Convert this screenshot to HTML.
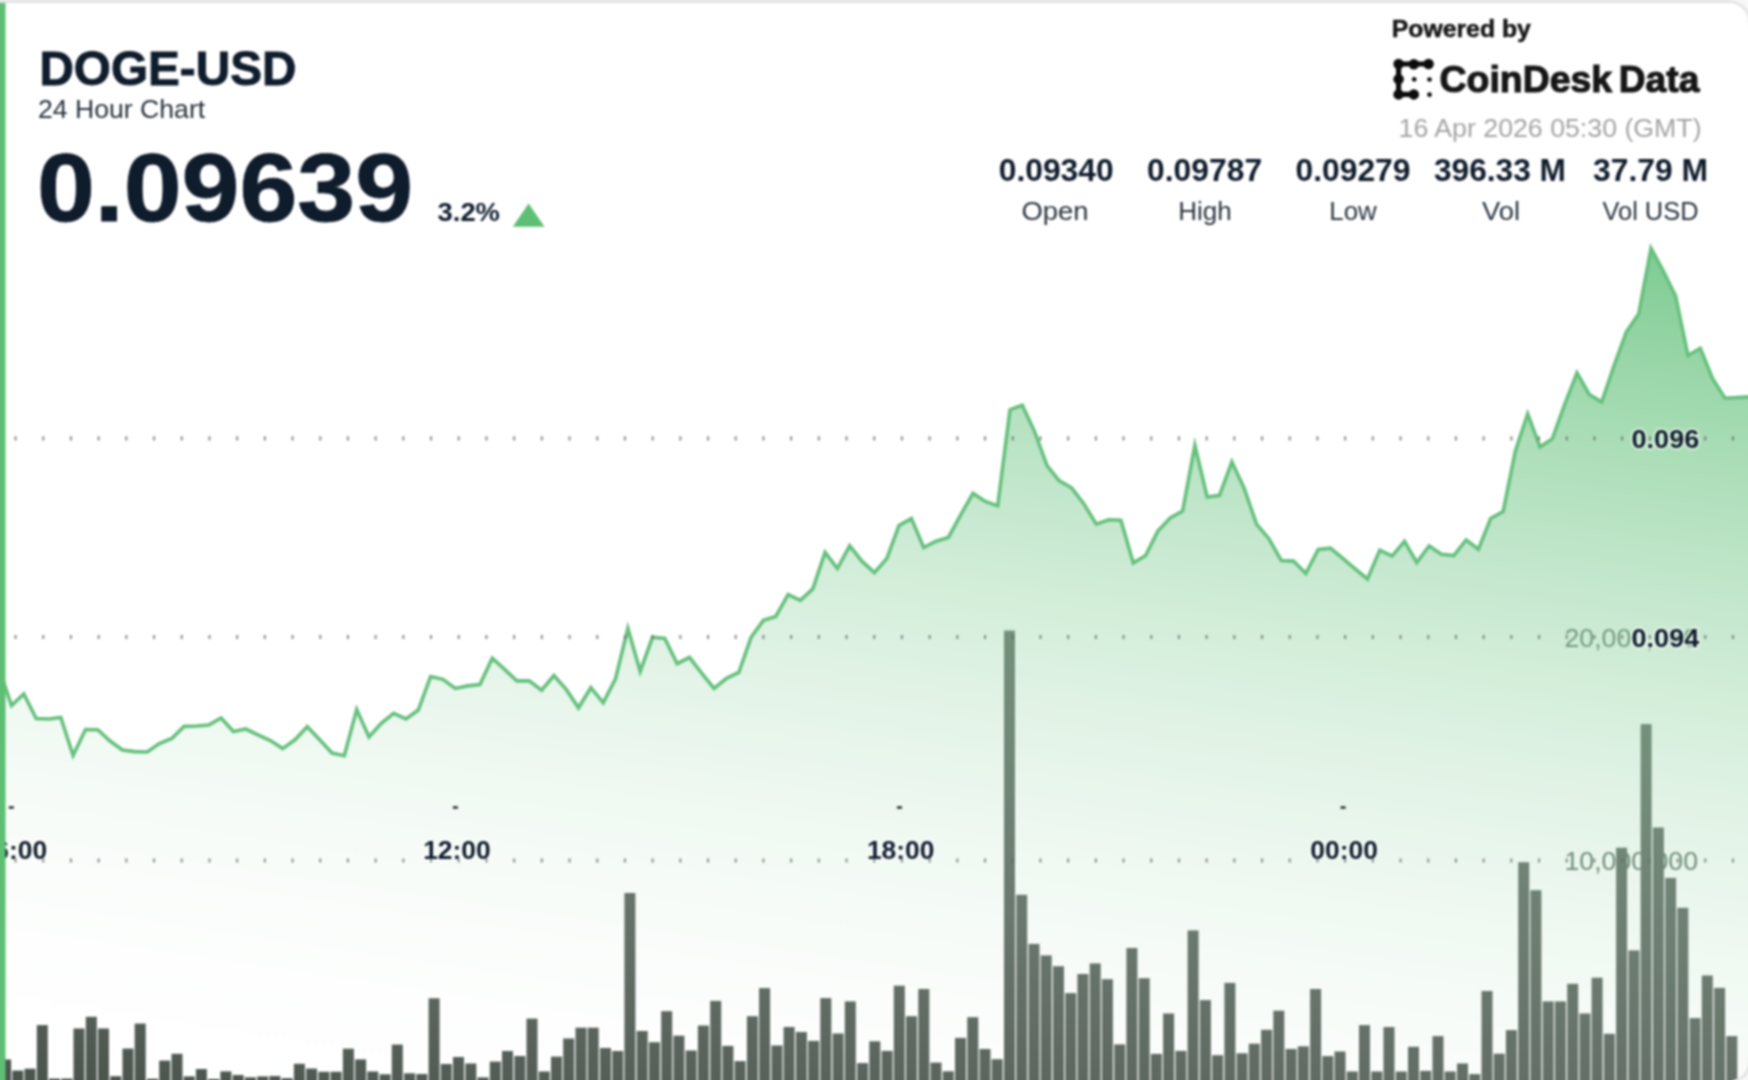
<!DOCTYPE html>
<html lang="en"><head><meta charset="utf-8"><title>DOGE-USD 24 Hour Chart</title>
<style>
html,body{margin:0;padding:0;background:#fff;}
body{width:1748px;height:1080px;overflow:hidden;}
svg{display:block;}
text{font-family:"Liberation Sans",sans-serif;}
.b{font-weight:bold;}
.navy{fill:#0f1c2c;}
.halo{paint-order:stroke;stroke:rgba(255,255,255,0.5);stroke-width:4px;stroke-linejoin:round;}
.thick{stroke:#0f1c2c;stroke-width:0.9px;}
</style></head><body>
<svg width="1748" height="1080" viewBox="0 0 1748 1080">
<defs>
<filter id="bl" filterUnits="userSpaceOnUse" x="-20" y="-20" width="1788" height="1120" color-interpolation-filters="sRGB"><feGaussianBlur stdDeviation="0.8"/></filter>
<linearGradient id="g" gradientUnits="userSpaceOnUse" x1="1650" y1="250" x2="1495" y2="1291"><stop offset="0.000" stop-color="rgb(95,191,119)" stop-opacity="0.800"/><stop offset="0.050" stop-color="rgb(103,194,126)" stop-opacity="0.760"/><stop offset="0.100" stop-color="rgb(111,197,133)" stop-opacity="0.720"/><stop offset="0.150" stop-color="rgb(119,201,139)" stop-opacity="0.680"/><stop offset="0.200" stop-color="rgb(127,204,146)" stop-opacity="0.640"/><stop offset="0.250" stop-color="rgb(135,207,153)" stop-opacity="0.600"/><stop offset="0.300" stop-color="rgb(143,210,160)" stop-opacity="0.560"/><stop offset="0.350" stop-color="rgb(151,213,167)" stop-opacity="0.520"/><stop offset="0.400" stop-color="rgb(159,217,173)" stop-opacity="0.480"/><stop offset="0.450" stop-color="rgb(167,220,180)" stop-opacity="0.440"/><stop offset="0.500" stop-color="rgb(175,223,187)" stop-opacity="0.400"/><stop offset="0.550" stop-color="rgb(183,226,194)" stop-opacity="0.360"/><stop offset="0.600" stop-color="rgb(191,229,201)" stop-opacity="0.320"/><stop offset="0.650" stop-color="rgb(199,233,207)" stop-opacity="0.280"/><stop offset="0.700" stop-color="rgb(207,236,214)" stop-opacity="0.240"/><stop offset="0.750" stop-color="rgb(215,239,221)" stop-opacity="0.200"/><stop offset="0.800" stop-color="rgb(223,242,228)" stop-opacity="0.160"/><stop offset="0.850" stop-color="rgb(231,245,235)" stop-opacity="0.120"/><stop offset="0.900" stop-color="rgb(239,249,241)" stop-opacity="0.080"/><stop offset="0.950" stop-color="rgb(247,252,248)" stop-opacity="0.040"/><stop offset="1.000" stop-color="rgb(255,255,255)" stop-opacity="0.000"/></linearGradient>
<clipPath id="card"><rect x="-40" y="0" width="1791.5" height="1083.5" rx="22.5" ry="22.5"/></clipPath>
</defs>
<rect x="-30" y="-30" width="1808" height="1140" fill="#f8f8f8"/>
<g id="all" filter="url(#bl)"><g clip-path="url(#card)">
<rect x="-30" y="-30" width="1808" height="1140" fill="#fff"/>
<g font-size="26" fill="#4b6152" fill-opacity="1" text-anchor="end" stroke-width="0">
<text class="halo" x="1698" y="647" textLength="133.5" lengthAdjust="spacingAndGlyphs">20,000,000</text>
<text class="halo" x="1698" y="870" textLength="133.5" lengthAdjust="spacingAndGlyphs">10,000,000</text>
</g>
<g fill="#4b554e"><rect x="0.1" y="1059.5" width="11.0" height="40.5"/><rect x="12.3" y="1070.6" width="11.0" height="29.4"/><rect x="24.5" y="1068.7" width="11.0" height="31.3"/><rect x="36.8" y="1025.1" width="11.0" height="74.9"/><rect x="49.0" y="1078.6" width="11.0" height="21.4"/><rect x="61.3" y="1078.6" width="11.0" height="21.4"/><rect x="73.5" y="1028.5" width="11.0" height="71.5"/><rect x="85.8" y="1016.8" width="11.0" height="83.2"/><rect x="98.0" y="1028.5" width="11.0" height="71.5"/><rect x="110.2" y="1076.2" width="11.0" height="23.8"/><rect x="122.5" y="1048.6" width="11.0" height="51.4"/><rect x="134.7" y="1023.6" width="11.0" height="76.4"/><rect x="147.0" y="1078.8" width="11.0" height="21.2"/><rect x="159.2" y="1060.6" width="11.0" height="39.4"/><rect x="171.5" y="1053.8" width="11.0" height="46.2"/><rect x="183.7" y="1076.4" width="11.0" height="23.6"/><rect x="195.9" y="1069.0" width="11.0" height="31.0"/><rect x="208.2" y="1079.0" width="11.0" height="21.0"/><rect x="220.4" y="1071.4" width="11.0" height="28.6"/><rect x="232.7" y="1075.0" width="11.0" height="25.0"/><rect x="244.9" y="1077.3" width="11.0" height="22.7"/><rect x="257.2" y="1076.4" width="11.0" height="23.6"/><rect x="269.4" y="1076.0" width="11.0" height="24.0"/><rect x="281.6" y="1078.2" width="11.0" height="21.8"/><rect x="293.9" y="1063.8" width="11.0" height="36.2"/><rect x="306.1" y="1068.6" width="11.0" height="31.4"/><rect x="318.4" y="1071.8" width="11.0" height="28.2"/><rect x="330.6" y="1071.8" width="11.0" height="28.2"/><rect x="342.9" y="1048.7" width="11.0" height="51.3"/><rect x="355.1" y="1059.4" width="11.0" height="40.6"/><rect x="367.3" y="1071.5" width="11.0" height="28.5"/><rect x="379.6" y="1074.3" width="11.0" height="25.7"/><rect x="391.8" y="1044.6" width="11.0" height="55.4"/><rect x="404.1" y="1073.3" width="11.0" height="26.7"/><rect x="416.3" y="1074.0" width="11.0" height="26.0"/><rect x="428.6" y="998.3" width="11.0" height="101.7"/><rect x="440.8" y="1064.0" width="11.0" height="36.0"/><rect x="453.0" y="1057.0" width="11.0" height="43.0"/><rect x="465.3" y="1063.5" width="11.0" height="36.5"/><rect x="477.5" y="1077.4" width="11.0" height="22.6"/><rect x="489.8" y="1061.6" width="11.0" height="38.4"/><rect x="502.0" y="1051.0" width="11.0" height="49.0"/><rect x="514.3" y="1056.0" width="11.0" height="44.0"/><rect x="526.5" y="1018.6" width="11.0" height="81.4"/><rect x="538.7" y="1071.5" width="11.0" height="28.5"/><rect x="551.0" y="1056.6" width="11.0" height="43.4"/><rect x="563.2" y="1038.5" width="11.0" height="61.5"/><rect x="575.5" y="1027.7" width="11.0" height="72.3"/><rect x="587.7" y="1027.7" width="11.0" height="72.3"/><rect x="600.0" y="1048.0" width="11.0" height="52.0"/><rect x="612.2" y="1051.0" width="11.0" height="49.0"/><rect x="624.4" y="893.0" width="11.0" height="207.0"/><rect x="636.7" y="1031.0" width="11.0" height="69.0"/><rect x="648.9" y="1042.2" width="11.0" height="57.8"/><rect x="661.2" y="1011.2" width="11.0" height="88.8"/><rect x="673.4" y="1035.7" width="11.0" height="64.3"/><rect x="685.7" y="1050.5" width="11.0" height="49.5"/><rect x="697.9" y="1025.5" width="11.0" height="74.5"/><rect x="710.2" y="1000.9" width="11.0" height="99.1"/><rect x="722.4" y="1045.9" width="11.0" height="54.1"/><rect x="734.6" y="1061.1" width="11.0" height="38.9"/><rect x="746.9" y="1016.2" width="11.0" height="83.8"/><rect x="759.1" y="988.1" width="11.0" height="111.9"/><rect x="771.4" y="1045.5" width="11.0" height="54.5"/><rect x="783.6" y="1027.0" width="11.0" height="73.0"/><rect x="795.9" y="1032.0" width="11.0" height="68.0"/><rect x="808.1" y="1040.9" width="11.0" height="59.1"/><rect x="820.3" y="998.1" width="11.0" height="101.9"/><rect x="832.6" y="1033.5" width="11.0" height="66.5"/><rect x="844.8" y="1001.4" width="11.0" height="98.6"/><rect x="857.1" y="1063.1" width="11.0" height="36.9"/><rect x="869.3" y="1041.3" width="11.0" height="58.7"/><rect x="881.6" y="1050.9" width="11.0" height="49.1"/><rect x="893.8" y="985.7" width="11.0" height="114.3"/><rect x="906.0" y="1016.2" width="11.0" height="83.8"/><rect x="918.3" y="989.0" width="11.0" height="111.0"/><rect x="930.5" y="1062.6" width="11.0" height="37.4"/><rect x="942.8" y="1071.3" width="11.0" height="28.7"/><rect x="955.0" y="1037.9" width="11.0" height="62.1"/><rect x="967.3" y="1017.2" width="11.0" height="82.8"/><rect x="979.5" y="1049.0" width="11.0" height="51.0"/><rect x="991.7" y="1059.2" width="11.0" height="40.8"/><rect x="1004.0" y="630.6" width="11.0" height="469.4"/><rect x="1016.2" y="894.8" width="11.0" height="205.2"/><rect x="1028.5" y="943.9" width="11.0" height="156.1"/><rect x="1040.7" y="955.4" width="11.0" height="144.6"/><rect x="1053.0" y="966.2" width="11.0" height="133.8"/><rect x="1065.2" y="993.1" width="11.0" height="106.9"/><rect x="1077.4" y="974.0" width="11.0" height="126.0"/><rect x="1089.7" y="963.4" width="11.0" height="136.6"/><rect x="1101.9" y="979.2" width="11.0" height="120.8"/><rect x="1114.2" y="1044.4" width="11.0" height="55.6"/><rect x="1126.4" y="948.0" width="11.0" height="152.0"/><rect x="1138.7" y="978.2" width="11.0" height="121.8"/><rect x="1150.9" y="1053.9" width="11.0" height="46.1"/><rect x="1163.1" y="1013.5" width="11.0" height="86.5"/><rect x="1175.4" y="1050.9" width="11.0" height="49.1"/><rect x="1187.6" y="930.4" width="11.0" height="169.6"/><rect x="1199.9" y="1000.1" width="11.0" height="99.9"/><rect x="1212.1" y="1055.2" width="11.0" height="44.8"/><rect x="1224.4" y="982.9" width="11.0" height="117.1"/><rect x="1236.6" y="1053.3" width="11.0" height="46.7"/><rect x="1248.8" y="1043.7" width="11.0" height="56.3"/><rect x="1261.1" y="1029.8" width="11.0" height="70.2"/><rect x="1273.3" y="1010.7" width="11.0" height="89.3"/><rect x="1285.6" y="1049.0" width="11.0" height="51.0"/><rect x="1297.8" y="1046.3" width="11.0" height="53.7"/><rect x="1310.1" y="989.0" width="11.0" height="111.0"/><rect x="1322.3" y="1056.1" width="11.0" height="43.9"/><rect x="1334.5" y="1051.5" width="11.0" height="48.5"/><rect x="1346.8" y="1071.5" width="11.0" height="28.5"/><rect x="1359.0" y="1025.1" width="11.0" height="74.9"/><rect x="1371.3" y="1071.5" width="11.0" height="28.5"/><rect x="1383.5" y="1027.0" width="11.0" height="73.0"/><rect x="1395.8" y="1071.5" width="11.0" height="28.5"/><rect x="1408.0" y="1046.8" width="11.0" height="53.2"/><rect x="1420.2" y="1070.9" width="11.0" height="29.1"/><rect x="1432.5" y="1036.1" width="11.0" height="63.9"/><rect x="1444.7" y="1071.5" width="11.0" height="28.5"/><rect x="1457.0" y="1063.5" width="11.0" height="36.5"/><rect x="1469.2" y="1074.1" width="11.0" height="25.9"/><rect x="1481.5" y="991.0" width="11.0" height="109.0"/><rect x="1493.7" y="1053.7" width="11.0" height="46.3"/><rect x="1505.9" y="1030.1" width="11.0" height="69.9"/><rect x="1518.2" y="862.2" width="11.0" height="237.8"/><rect x="1530.4" y="890.2" width="11.0" height="209.8"/><rect x="1542.7" y="1001.4" width="11.0" height="98.6"/><rect x="1554.9" y="1001.4" width="11.0" height="98.6"/><rect x="1567.2" y="983.8" width="11.0" height="116.2"/><rect x="1579.4" y="1013.5" width="11.0" height="86.5"/><rect x="1591.6" y="977.7" width="11.0" height="122.3"/><rect x="1603.9" y="1033.8" width="11.0" height="66.2"/><rect x="1616.1" y="847.7" width="11.0" height="252.3"/><rect x="1628.4" y="950.4" width="11.0" height="149.6"/><rect x="1640.6" y="724.1" width="11.0" height="375.9"/><rect x="1652.9" y="827.5" width="11.0" height="272.5"/><rect x="1665.1" y="877.9" width="11.0" height="222.1"/><rect x="1677.3" y="907.8" width="11.0" height="192.2"/><rect x="1689.6" y="1018.1" width="11.0" height="81.9"/><rect x="1701.8" y="975.5" width="11.0" height="124.5"/><rect x="1714.1" y="987.9" width="11.0" height="112.1"/><rect x="1726.3" y="1036.1" width="11.0" height="63.9"/></g>
<path d="M-15.0,640.0 L-0.8,669.0 L11.5,705.5 L23.8,694.0 L36.2,718.5 L48.5,719.0 L60.8,717.5 L73.1,755.5 L85.5,729.5 L97.8,729.7 L110.1,741.0 L122.4,750.0 L134.8,751.6 L147.1,752.0 L159.4,743.6 L171.8,738.5 L184.1,726.4 L196.4,726.0 L208.7,725.0 L221.1,718.0 L233.4,731.5 L245.7,729.0 L258.0,734.8 L270.4,740.5 L282.7,748.6 L295.0,739.8 L307.3,726.7 L319.7,739.8 L332.0,753.0 L344.3,755.7 L356.7,709.6 L369.0,737.0 L381.3,723.4 L393.6,713.4 L406.0,719.0 L418.3,710.0 L430.6,676.5 L442.9,679.3 L455.3,688.4 L467.6,685.9 L479.9,684.6 L492.3,658.2 L504.6,669.3 L516.9,680.9 L529.2,680.9 L541.6,690.2 L553.9,675.6 L566.2,689.4 L578.5,707.8 L590.9,687.7 L603.2,702.8 L615.5,678.8 L627.9,628.5 L640.2,671.3 L652.5,637.3 L664.8,638.5 L677.2,663.7 L689.5,657.4 L701.8,673.3 L714.1,688.4 L726.5,678.3 L738.8,672.5 L751.1,637.3 L763.4,620.4 L775.8,616.4 L788.1,594.5 L800.4,600.3 L812.8,588.9 L825.1,552.4 L837.4,568.5 L849.7,545.8 L862.1,561.4 L874.4,572.7 L886.7,558.8 L899.0,525.6 L911.4,518.5 L923.7,547.5 L936.0,541.2 L948.4,537.4 L960.7,514.8 L973.0,493.4 L985.3,501.4 L997.7,505.9 L1010.0,409.7 L1022.3,405.2 L1034.6,431.6 L1047.0,465.6 L1059.3,480.8 L1071.6,487.8 L1083.9,503.9 L1096.3,524.1 L1108.6,519.8 L1120.9,520.3 L1133.3,563.1 L1145.6,555.6 L1157.9,531.1 L1170.2,518.0 L1182.6,511.0 L1194.9,445.5 L1207.2,497.1 L1219.5,495.4 L1231.9,461.9 L1244.2,488.3 L1256.5,524.1 L1268.9,538.7 L1281.2,560.5 L1293.5,561.1 L1305.8,573.5 L1318.2,549.5 L1330.5,548.2 L1342.8,558.3 L1355.1,568.8 L1367.5,579.0 L1379.8,550.1 L1392.1,556.1 L1404.5,541.3 L1416.8,562.5 L1429.1,546.0 L1441.4,554.2 L1453.8,555.6 L1466.1,539.9 L1478.4,549.3 L1490.7,518.4 L1503.1,511.6 L1515.4,451.0 L1527.7,413.9 L1540.0,446.9 L1552.4,438.7 L1564.7,404.3 L1577.0,373.0 L1589.4,394.6 L1601.7,402.1 L1614.0,365.8 L1626.3,332.0 L1638.7,313.8 L1651.0,248.3 L1663.3,271.2 L1675.6,296.0 L1688.0,355.5 L1700.3,348.3 L1712.6,378.7 L1725.0,398.2 L1737.3,397.5 L1749.6,396.9 L1765.0,396.5 L1765.0,1110 L-15.0,1110 Z" fill="url(#g)"/>
<path d="M-15.0,640.0 L-0.8,669.0 L11.5,705.5 L23.8,694.0 L36.2,718.5 L48.5,719.0 L60.8,717.5 L73.1,755.5 L85.5,729.5 L97.8,729.7 L110.1,741.0 L122.4,750.0 L134.8,751.6 L147.1,752.0 L159.4,743.6 L171.8,738.5 L184.1,726.4 L196.4,726.0 L208.7,725.0 L221.1,718.0 L233.4,731.5 L245.7,729.0 L258.0,734.8 L270.4,740.5 L282.7,748.6 L295.0,739.8 L307.3,726.7 L319.7,739.8 L332.0,753.0 L344.3,755.7 L356.7,709.6 L369.0,737.0 L381.3,723.4 L393.6,713.4 L406.0,719.0 L418.3,710.0 L430.6,676.5 L442.9,679.3 L455.3,688.4 L467.6,685.9 L479.9,684.6 L492.3,658.2 L504.6,669.3 L516.9,680.9 L529.2,680.9 L541.6,690.2 L553.9,675.6 L566.2,689.4 L578.5,707.8 L590.9,687.7 L603.2,702.8 L615.5,678.8 L627.9,628.5 L640.2,671.3 L652.5,637.3 L664.8,638.5 L677.2,663.7 L689.5,657.4 L701.8,673.3 L714.1,688.4 L726.5,678.3 L738.8,672.5 L751.1,637.3 L763.4,620.4 L775.8,616.4 L788.1,594.5 L800.4,600.3 L812.8,588.9 L825.1,552.4 L837.4,568.5 L849.7,545.8 L862.1,561.4 L874.4,572.7 L886.7,558.8 L899.0,525.6 L911.4,518.5 L923.7,547.5 L936.0,541.2 L948.4,537.4 L960.7,514.8 L973.0,493.4 L985.3,501.4 L997.7,505.9 L1010.0,409.7 L1022.3,405.2 L1034.6,431.6 L1047.0,465.6 L1059.3,480.8 L1071.6,487.8 L1083.9,503.9 L1096.3,524.1 L1108.6,519.8 L1120.9,520.3 L1133.3,563.1 L1145.6,555.6 L1157.9,531.1 L1170.2,518.0 L1182.6,511.0 L1194.9,445.5 L1207.2,497.1 L1219.5,495.4 L1231.9,461.9 L1244.2,488.3 L1256.5,524.1 L1268.9,538.7 L1281.2,560.5 L1293.5,561.1 L1305.8,573.5 L1318.2,549.5 L1330.5,548.2 L1342.8,558.3 L1355.1,568.8 L1367.5,579.0 L1379.8,550.1 L1392.1,556.1 L1404.5,541.3 L1416.8,562.5 L1429.1,546.0 L1441.4,554.2 L1453.8,555.6 L1466.1,539.9 L1478.4,549.3 L1490.7,518.4 L1503.1,511.6 L1515.4,451.0 L1527.7,413.9 L1540.0,446.9 L1552.4,438.7 L1564.7,404.3 L1577.0,373.0 L1589.4,394.6 L1601.7,402.1 L1614.0,365.8 L1626.3,332.0 L1638.7,313.8 L1651.0,248.3 L1663.3,271.2 L1675.6,296.0 L1688.0,355.5 L1700.3,348.3 L1712.6,378.7 L1725.0,398.2 L1737.3,397.5 L1749.6,396.9 L1765.0,396.5" fill="none" stroke="#66c07d" stroke-width="3.6" stroke-linejoin="miter" stroke-miterlimit="10" stroke-linecap="butt"/>
<g fill="#20252b"><rect x="8.8" y="806.3" width="5" height="2.4"/><rect x="452.9" y="806.3" width="5" height="2.4"/><rect x="897" y="806.3" width="5" height="2.4"/><rect x="1340.6" y="806.3" width="5" height="2.4"/></g>
<g class="b navy" font-size="26.5">
<text class="halo" x="1631.6" y="448" textLength="67.6" lengthAdjust="spacingAndGlyphs">0.096</text>
<text class="halo" x="1631.6" y="647.3" textLength="67.6" lengthAdjust="spacingAndGlyphs">0.094</text>
</g>
<g class="b navy" font-size="26" text-anchor="middle">
<text class="halo" x="13.3" y="859.3" textLength="67.5" lengthAdjust="spacingAndGlyphs">06:00</text>
<text class="halo" x="456.9" y="859.3" textLength="67.5" lengthAdjust="spacingAndGlyphs">12:00</text>
<text class="halo" x="900.7" y="859.3" textLength="67.5" lengthAdjust="spacingAndGlyphs">18:00</text>
<text class="halo" x="1344.1" y="859.3" textLength="67.5" lengthAdjust="spacingAndGlyphs">00:00</text>
</g>
<g><line x1="14.5" y1="438.4" x2="1770" y2="438.4" stroke="#5f6b65" stroke-opacity="0.72" stroke-width="4.2" stroke-dasharray="2.1 25.6"/><line x1="14.5" y1="637" x2="1770" y2="637" stroke="#5f6b65" stroke-opacity="0.72" stroke-width="4.2" stroke-dasharray="2.1 25.6"/><line x1="14.5" y1="860.5" x2="1770" y2="860.5" stroke="#5f6b65" stroke-opacity="0.72" stroke-width="4.2" stroke-dasharray="2.1 25.6"/></g>
<path d="M-40,1.5 H1729 A21,21 0 0 1 1750,22.5 V26 M1750,1057 V1061 A21,21 0 0 1 1733,1081.6" fill="none" stroke="#e3e3e3" stroke-width="3"/>
<rect x="-20" y="3" width="25.5" height="1100" fill="#5ebf74"/>
<g class="b navy">
<text class="thick" x="39.4" y="85.2" font-size="48" textLength="257" lengthAdjust="spacingAndGlyphs">DOGE-USD</text>
<text x="38" y="118.3" font-size="26" font-weight="normal" fill="#27313d" textLength="167.2" lengthAdjust="spacingAndGlyphs">24 Hour Chart</text>
<text class="thick" x="37" y="220.6" font-size="96" textLength="376" lengthAdjust="spacingAndGlyphs">0.09639</text>
<text x="437.6" y="221.3" font-size="25.5" textLength="62.3" lengthAdjust="spacingAndGlyphs">3.2%</text>
</g>
<path d="M528.6,203.5 L544.5,226.8 L512.8,226.8 Z" fill="#5ebf74"/>
<g class="b" fill="#161616" stroke="#161616">
<text x="1391.8" y="36.6" font-size="24.8" stroke-width="0.5" textLength="139" lengthAdjust="spacingAndGlyphs">Powered by</text>
<text y="92" font-size="37.5" stroke-width="1.1"><tspan x="1439.6" textLength="172.5" lengthAdjust="spacingAndGlyphs">CoinDesk</tspan> <tspan x="1618.8" textLength="80.5" lengthAdjust="spacingAndGlyphs">Data</tspan></text>
</g>
<g id="logo" fill="#0c0c0c" stroke="#0c0c0c" stroke-width="5.2" stroke-linecap="round" stroke-linejoin="round">
<path d="M1428.6,64 H1398.6 V94.4 H1413.8" fill="none"/>
<g stroke="none"><circle cx="1398.6" cy="64" r="5.25"/><circle cx="1413.8" cy="64.2" r="5.25"/><circle cx="1428.6" cy="64" r="5.25"/><circle cx="1398.6" cy="79.2" r="5.25"/><circle cx="1398.6" cy="94.4" r="5.25"/><circle cx="1413.8" cy="94.4" r="5.25"/>
<circle cx="1414.2" cy="79.3" r="2.35"/><circle cx="1429.5" cy="79.5" r="2.35"/><circle cx="1429.5" cy="94.7" r="2.35"/></g>
</g>
<text x="1398.6" y="137.4" font-size="25.5" fill="#a4a4a4" textLength="303" lengthAdjust="spacingAndGlyphs">16 Apr 2026 05:30 (GMT)</text>
<g class="b navy" font-size="31" text-anchor="middle">
<text x="1056.2" y="181.4" textLength="115" lengthAdjust="spacingAndGlyphs">0.09340</text>
<text x="1204.6" y="181.4" textLength="115" lengthAdjust="spacingAndGlyphs">0.09787</text>
<text x="1353" y="181.4" textLength="115" lengthAdjust="spacingAndGlyphs">0.09279</text>
<text x="1500" y="181.4" textLength="132" lengthAdjust="spacingAndGlyphs">396.33 M</text>
<text x="1650.5" y="181.4" textLength="115" lengthAdjust="spacingAndGlyphs">37.79 M</text>
</g>
<g font-size="25.5" fill="#29333f" text-anchor="middle">
<text x="1055" y="219.6" textLength="67" lengthAdjust="spacingAndGlyphs">Open</text>
<text x="1205" y="219.6" textLength="53.5" lengthAdjust="spacingAndGlyphs">High</text>
<text x="1353" y="219.6" textLength="47.5" lengthAdjust="spacingAndGlyphs">Low</text>
<text x="1501" y="219.6" textLength="38" lengthAdjust="spacingAndGlyphs">Vol</text>
<text x="1650.5" y="219.6" textLength="96" lengthAdjust="spacingAndGlyphs">Vol USD</text>
</g>
</g></g>
</svg>
</body></html>
